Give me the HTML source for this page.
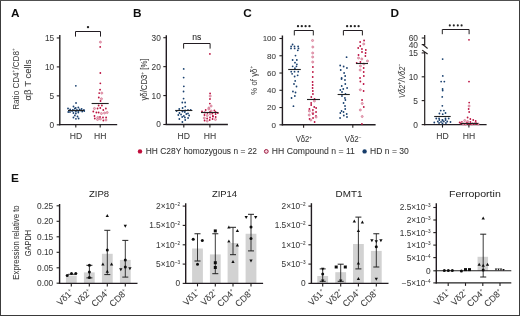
<!DOCTYPE html>
<html><head><meta charset="utf-8"><style>
html,body{margin:0;padding:0;background:#fff;width:520px;height:316px;overflow:hidden}
svg{display:block;font-family:"Liberation Sans", sans-serif}
</style></head><body>
<svg width="520" height="316" viewBox="0 0 520 316">
<defs><filter id="sf" x="0" y="0" width="520" height="316" filterUnits="userSpaceOnUse"><feGaussianBlur stdDeviation="0.28"/></filter></defs>
<rect width="520" height="316" fill="#fff"/>
<g filter="url(#sf)">
<text x="11.10" y="17.20" font-size="11.8" text-anchor="start" fill="#111" font-weight="bold">A</text>
<text x="133.10" y="17.20" font-size="11.8" text-anchor="start" fill="#111" font-weight="bold">B</text>
<text x="243.20" y="17.40" font-size="11.8" text-anchor="start" fill="#111" font-weight="bold">C</text>
<text x="390.50" y="16.90" font-size="11.8" text-anchor="start" fill="#111" font-weight="bold">D</text>
<text x="11.00" y="182.40" font-size="11.8" text-anchor="start" fill="#111" font-weight="bold">E</text>
<line x1="59.80" y1="35.00" x2="59.80" y2="125.20" stroke="#231f20" stroke-width="1.4"/>
<line x1="56.80" y1="37.95" x2="59.80" y2="37.95" stroke="#231f20" stroke-width="1.1"/>
<text x="54.20" y="40.94" font-size="8.3" text-anchor="end" fill="#3a3a3a" font-weight="normal" stroke="#3a3a3a" stroke-width="0.06">15</text>
<line x1="56.80" y1="66.90" x2="59.80" y2="66.90" stroke="#231f20" stroke-width="1.1"/>
<text x="54.20" y="69.89" font-size="8.3" text-anchor="end" fill="#3a3a3a" font-weight="normal" stroke="#3a3a3a" stroke-width="0.06">10</text>
<line x1="56.80" y1="95.85" x2="59.80" y2="95.85" stroke="#231f20" stroke-width="1.1"/>
<text x="54.20" y="98.84" font-size="8.3" text-anchor="end" fill="#3a3a3a" font-weight="normal" stroke="#3a3a3a" stroke-width="0.06">5</text>
<line x1="56.80" y1="124.80" x2="59.80" y2="124.80" stroke="#231f20" stroke-width="1.1"/>
<text x="54.20" y="127.79" font-size="8.3" text-anchor="end" fill="#3a3a3a" font-weight="normal" stroke="#3a3a3a" stroke-width="0.06">0</text>
<line x1="59.00" y1="124.60" x2="117.20" y2="124.60" stroke="#231f20" stroke-width="1.4"/>
<line x1="75.80" y1="124.60" x2="75.80" y2="127.60" stroke="#231f20" stroke-width="1.1"/>
<line x1="100.20" y1="124.60" x2="100.20" y2="127.60" stroke="#231f20" stroke-width="1.1"/>
<text x="76.00" y="138.50" font-size="8.6" text-anchor="middle" fill="#3a3a3a" font-weight="normal" stroke="#3a3a3a" stroke-width="0.06">HD</text>
<text x="100.30" y="138.50" font-size="8.6" text-anchor="middle" fill="#3a3a3a" font-weight="normal" stroke="#3a3a3a" stroke-width="0.06">HH</text>
<polyline points="75.50,36.60 75.50,31.50 100.50,31.50 100.50,36.60" fill="none" stroke="#231f20" stroke-width="1"/>
<circle cx="88" cy="27.1" r="1.2" fill="#222"/>
<text x="18.70" y="79.00" font-size="9.6" text-anchor="middle" fill="#3a3a3a" font-weight="normal" textLength="61.5" lengthAdjust="spacingAndGlyphs" transform="rotate(-90 18.70 79.00)">Ratio CD4<tspan font-size="5.8" dy="-3.6">+</tspan><tspan dy="3.6">/CD8</tspan><tspan font-size="5.8" dy="-3.6">+</tspan></text>
<text x="30.80" y="80.00" font-size="8.8" text-anchor="middle" fill="#3a3a3a" font-weight="normal" stroke="#3a3a3a" stroke-width="0.06" textLength="41" lengthAdjust="spacingAndGlyphs" transform="rotate(-90 30.80 80.00)">αβ T cells</text>
<circle cx="75.84" cy="85.80" r="0.90" fill="#1b416f"/>
<circle cx="76.03" cy="103.00" r="0.90" fill="#1b416f"/>
<circle cx="73.48" cy="106.50" r="0.90" fill="#1b416f"/>
<circle cx="78.34" cy="107.50" r="0.90" fill="#1b416f"/>
<circle cx="75.71" cy="108.00" r="0.90" fill="#1b416f"/>
<circle cx="68.02" cy="108.50" r="0.90" fill="#1b416f"/>
<circle cx="74.89" cy="108.50" r="0.90" fill="#1b416f"/>
<circle cx="81.65" cy="109.00" r="0.90" fill="#1b416f"/>
<circle cx="79.65" cy="109.50" r="0.90" fill="#1b416f"/>
<circle cx="70.12" cy="109.50" r="0.90" fill="#1b416f"/>
<circle cx="76.93" cy="110.00" r="0.90" fill="#1b416f"/>
<circle cx="72.83" cy="110.00" r="0.90" fill="#1b416f"/>
<circle cx="83.93" cy="110.00" r="0.90" fill="#1b416f"/>
<circle cx="73.98" cy="110.50" r="0.90" fill="#1b416f"/>
<circle cx="80.13" cy="110.50" r="0.90" fill="#1b416f"/>
<circle cx="78.23" cy="111.00" r="0.90" fill="#1b416f"/>
<circle cx="72.13" cy="111.00" r="0.90" fill="#1b416f"/>
<circle cx="84.25" cy="111.00" r="0.90" fill="#1b416f"/>
<circle cx="75.94" cy="111.50" r="0.90" fill="#1b416f"/>
<circle cx="82.18" cy="111.50" r="0.90" fill="#1b416f"/>
<circle cx="69.97" cy="112.00" r="0.90" fill="#1b416f"/>
<circle cx="68.26" cy="112.00" r="0.90" fill="#1b416f"/>
<circle cx="78.32" cy="112.50" r="0.90" fill="#1b416f"/>
<circle cx="73.40" cy="113.00" r="0.90" fill="#1b416f"/>
<circle cx="75.85" cy="113.50" r="0.90" fill="#1b416f"/>
<circle cx="74.87" cy="115.50" r="0.90" fill="#1b416f"/>
<circle cx="77.51" cy="116.50" r="0.90" fill="#1b416f"/>
<circle cx="73.44" cy="117.50" r="0.90" fill="#1b416f"/>
<circle cx="78.62" cy="118.50" r="0.90" fill="#1b416f"/>
<circle cx="75.94" cy="118.80" r="0.90" fill="#1b416f"/>
<line x1="68.00" y1="110.50" x2="84.00" y2="110.50" stroke="#222" stroke-width="1.1"/>
<circle cx="100.42" cy="42.10" r="1.05" fill="#eeb2c2" stroke="#cc6684" stroke-width="0.6"/>
<circle cx="100.20" cy="46.90" r="0.90" fill="#bb1340"/>
<circle cx="100.33" cy="73.00" r="0.90" fill="#bb1340"/>
<circle cx="100.34" cy="83.30" r="0.90" fill="#bb1340"/>
<circle cx="100.06" cy="89.70" r="0.90" fill="#bb1340"/>
<circle cx="101.78" cy="93.10" r="1.05" fill="#eeb2c2" stroke="#cc6684" stroke-width="0.6"/>
<circle cx="99.19" cy="93.10" r="0.90" fill="#bb1340"/>
<circle cx="98.77" cy="97.50" r="0.90" fill="#bb1340"/>
<circle cx="101.44" cy="98.80" r="1.05" fill="#eeb2c2" stroke="#cc6684" stroke-width="0.6"/>
<circle cx="100.51" cy="101.00" r="0.90" fill="#bb1340"/>
<circle cx="98.65" cy="105.50" r="0.90" fill="#bb1340"/>
<circle cx="101.88" cy="105.50" r="0.90" fill="#bb1340"/>
<circle cx="100.26" cy="108.00" r="0.90" fill="#bb1340"/>
<circle cx="105.85" cy="108.50" r="0.90" fill="#bb1340"/>
<circle cx="94.47" cy="108.50" r="1.05" fill="#eeb2c2" stroke="#cc6684" stroke-width="0.6"/>
<circle cx="97.56" cy="108.50" r="0.90" fill="#bb1340"/>
<circle cx="103.26" cy="110.00" r="0.90" fill="#bb1340"/>
<circle cx="93.30" cy="111.50" r="0.90" fill="#bb1340"/>
<circle cx="96.40" cy="112.50" r="0.90" fill="#bb1340"/>
<circle cx="107.19" cy="112.50" r="1.05" fill="#eeb2c2" stroke="#cc6684" stroke-width="0.6"/>
<circle cx="98.65" cy="112.50" r="0.90" fill="#bb1340"/>
<circle cx="104.56" cy="113.00" r="1.05" fill="#eeb2c2" stroke="#cc6684" stroke-width="0.6"/>
<circle cx="101.42" cy="113.50" r="1.05" fill="#eeb2c2" stroke="#cc6684" stroke-width="0.6"/>
<circle cx="94.49" cy="116.00" r="0.90" fill="#bb1340"/>
<circle cx="100.03" cy="117.00" r="0.90" fill="#bb1340"/>
<circle cx="106.12" cy="117.50" r="0.90" fill="#bb1340"/>
<circle cx="102.99" cy="117.50" r="0.90" fill="#bb1340"/>
<circle cx="97.78" cy="117.50" r="1.05" fill="#eeb2c2" stroke="#cc6684" stroke-width="0.6"/>
<circle cx="94.79" cy="118.50" r="0.90" fill="#bb1340"/>
<circle cx="100.36" cy="119.00" r="1.05" fill="#eeb2c2" stroke="#cc6684" stroke-width="0.6"/>
<circle cx="97.54" cy="119.50" r="1.05" fill="#eeb2c2" stroke="#cc6684" stroke-width="0.6"/>
<circle cx="105.97" cy="120.00" r="1.05" fill="#eeb2c2" stroke="#cc6684" stroke-width="0.6"/>
<circle cx="103.36" cy="120.50" r="0.90" fill="#bb1340"/>
<line x1="91.60" y1="103.50" x2="108.70" y2="103.50" stroke="#222" stroke-width="1.1"/>
<line x1="166.30" y1="35.20" x2="166.30" y2="125.10" stroke="#231f20" stroke-width="1.4"/>
<line x1="163.30" y1="37.71" x2="166.30" y2="37.71" stroke="#231f20" stroke-width="1.1"/>
<text x="160.80" y="40.70" font-size="8.3" text-anchor="end" fill="#3a3a3a" font-weight="normal" stroke="#3a3a3a" stroke-width="0.06">30</text>
<line x1="163.30" y1="66.64" x2="166.30" y2="66.64" stroke="#231f20" stroke-width="1.1"/>
<text x="160.80" y="69.63" font-size="8.3" text-anchor="end" fill="#3a3a3a" font-weight="normal" stroke="#3a3a3a" stroke-width="0.06">20</text>
<line x1="163.30" y1="95.57" x2="166.30" y2="95.57" stroke="#231f20" stroke-width="1.1"/>
<text x="160.80" y="98.56" font-size="8.3" text-anchor="end" fill="#3a3a3a" font-weight="normal" stroke="#3a3a3a" stroke-width="0.06">10</text>
<line x1="163.30" y1="124.50" x2="166.30" y2="124.50" stroke="#231f20" stroke-width="1.1"/>
<text x="160.80" y="127.49" font-size="8.3" text-anchor="end" fill="#3a3a3a" font-weight="normal" stroke="#3a3a3a" stroke-width="0.06">0</text>
<line x1="165.70" y1="124.50" x2="227.90" y2="124.50" stroke="#231f20" stroke-width="1.4"/>
<line x1="183.80" y1="124.50" x2="183.80" y2="127.50" stroke="#231f20" stroke-width="1.1"/>
<line x1="209.90" y1="124.50" x2="209.90" y2="127.50" stroke="#231f20" stroke-width="1.1"/>
<text x="183.70" y="138.50" font-size="8.6" text-anchor="middle" fill="#3a3a3a" font-weight="normal" stroke="#3a3a3a" stroke-width="0.06">HD</text>
<text x="210.00" y="138.50" font-size="8.6" text-anchor="middle" fill="#3a3a3a" font-weight="normal" stroke="#3a3a3a" stroke-width="0.06">HH</text>
<polyline points="183.60,48.60 183.60,43.50 210.10,43.50 210.10,48.60" fill="none" stroke="#231f20" stroke-width="1"/>
<text x="196.85" y="39.80" font-size="8.6" text-anchor="middle" fill="#222" font-weight="normal" stroke="#222" stroke-width="0.06">ns</text>
<text x="147.30" y="79.50" font-size="9.4" text-anchor="middle" fill="#3a3a3a" font-weight="normal" stroke="#3a3a3a" stroke-width="0.06" textLength="42" lengthAdjust="spacingAndGlyphs" transform="rotate(-90 147.30 79.50)">γδ/CD3<tspan font-size="5.8" dy="-3.6">+</tspan><tspan dy="3.6"> [%]</tspan></text>
<circle cx="183.70" cy="68.90" r="0.90" fill="#1b416f"/>
<circle cx="183.66" cy="77.60" r="0.90" fill="#1b416f"/>
<circle cx="183.83" cy="86.30" r="0.90" fill="#1b416f"/>
<circle cx="183.54" cy="91.50" r="0.90" fill="#1b416f"/>
<circle cx="183.58" cy="98.60" r="0.90" fill="#1b416f"/>
<circle cx="182.31" cy="102.50" r="0.90" fill="#1b416f"/>
<circle cx="185.13" cy="102.50" r="0.90" fill="#1b416f"/>
<circle cx="185.27" cy="106.60" r="0.90" fill="#1b416f"/>
<circle cx="182.59" cy="108.00" r="0.90" fill="#1b416f"/>
<circle cx="179.24" cy="109.00" r="0.90" fill="#1b416f"/>
<circle cx="187.98" cy="110.00" r="0.90" fill="#1b416f"/>
<circle cx="190.68" cy="110.00" r="0.90" fill="#1b416f"/>
<circle cx="185.21" cy="110.50" r="0.90" fill="#1b416f"/>
<circle cx="176.61" cy="111.00" r="0.90" fill="#1b416f"/>
<circle cx="182.42" cy="111.00" r="0.90" fill="#1b416f"/>
<circle cx="182.57" cy="111.50" r="0.90" fill="#1b416f"/>
<circle cx="184.81" cy="112.00" r="0.90" fill="#1b416f"/>
<circle cx="179.42" cy="113.00" r="0.90" fill="#1b416f"/>
<circle cx="187.98" cy="113.50" r="0.90" fill="#1b416f"/>
<circle cx="186.31" cy="114.00" r="0.90" fill="#1b416f"/>
<circle cx="181.05" cy="114.50" r="0.90" fill="#1b416f"/>
<circle cx="178.31" cy="115.00" r="0.90" fill="#1b416f"/>
<circle cx="189.16" cy="115.50" r="0.90" fill="#1b416f"/>
<circle cx="183.87" cy="116.00" r="0.90" fill="#1b416f"/>
<circle cx="182.19" cy="117.00" r="0.90" fill="#1b416f"/>
<circle cx="184.93" cy="117.50" r="0.90" fill="#1b416f"/>
<circle cx="188.08" cy="118.00" r="0.90" fill="#1b416f"/>
<circle cx="179.34" cy="119.00" r="0.90" fill="#1b416f"/>
<circle cx="185.21" cy="120.00" r="0.90" fill="#1b416f"/>
<circle cx="182.39" cy="122.00" r="0.90" fill="#1b416f"/>
<line x1="175.20" y1="110.50" x2="192.40" y2="110.50" stroke="#222" stroke-width="1.1"/>
<circle cx="209.90" cy="53.90" r="0.90" fill="#bb1340"/>
<circle cx="210.09" cy="93.40" r="0.90" fill="#bb1340"/>
<circle cx="210.23" cy="96.00" r="1.05" fill="#eeb2c2" stroke="#cc6684" stroke-width="0.6"/>
<circle cx="209.97" cy="99.00" r="0.90" fill="#bb1340"/>
<circle cx="209.84" cy="103.60" r="0.90" fill="#bb1340"/>
<circle cx="211.12" cy="106.00" r="1.05" fill="#eeb2c2" stroke="#cc6684" stroke-width="0.6"/>
<circle cx="208.87" cy="108.00" r="1.05" fill="#eeb2c2" stroke="#cc6684" stroke-width="0.6"/>
<circle cx="208.82" cy="109.00" r="1.05" fill="#eeb2c2" stroke="#cc6684" stroke-width="0.6"/>
<circle cx="205.70" cy="110.00" r="0.90" fill="#bb1340"/>
<circle cx="214.40" cy="110.50" r="0.90" fill="#bb1340"/>
<circle cx="211.15" cy="111.00" r="1.05" fill="#eeb2c2" stroke="#cc6684" stroke-width="0.6"/>
<circle cx="202.01" cy="111.50" r="0.90" fill="#bb1340"/>
<circle cx="215.54" cy="112.00" r="0.90" fill="#bb1340"/>
<circle cx="209.98" cy="112.00" r="0.90" fill="#bb1340"/>
<circle cx="204.75" cy="112.50" r="1.05" fill="#eeb2c2" stroke="#cc6684" stroke-width="0.6"/>
<circle cx="217.87" cy="113.00" r="0.90" fill="#bb1340"/>
<circle cx="207.37" cy="113.00" r="0.90" fill="#bb1340"/>
<circle cx="212.39" cy="113.50" r="0.90" fill="#bb1340"/>
<circle cx="215.59" cy="114.00" r="0.90" fill="#bb1340"/>
<circle cx="210.20" cy="114.00" r="1.05" fill="#eeb2c2" stroke="#cc6684" stroke-width="0.6"/>
<circle cx="204.47" cy="115.00" r="0.90" fill="#bb1340"/>
<circle cx="207.21" cy="115.50" r="1.05" fill="#eeb2c2" stroke="#cc6684" stroke-width="0.6"/>
<circle cx="212.84" cy="116.00" r="0.90" fill="#bb1340"/>
<circle cx="213.00" cy="116.50" r="0.90" fill="#bb1340"/>
<circle cx="215.70" cy="117.00" r="0.90" fill="#bb1340"/>
<circle cx="210.01" cy="117.50" r="0.90" fill="#bb1340"/>
<circle cx="204.27" cy="118.00" r="1.05" fill="#eeb2c2" stroke="#cc6684" stroke-width="0.6"/>
<circle cx="207.10" cy="118.50" r="0.90" fill="#bb1340"/>
<circle cx="212.57" cy="119.00" r="0.90" fill="#bb1340"/>
<circle cx="215.45" cy="119.50" r="1.05" fill="#eeb2c2" stroke="#cc6684" stroke-width="0.6"/>
<circle cx="209.72" cy="120.00" r="0.90" fill="#bb1340"/>
<circle cx="204.58" cy="120.50" r="0.90" fill="#bb1340"/>
<circle cx="207.21" cy="121.00" r="1.05" fill="#eeb2c2" stroke="#cc6684" stroke-width="0.6"/>
<line x1="201.00" y1="112.50" x2="218.30" y2="112.50" stroke="#222" stroke-width="1.1"/>
<line x1="282.40" y1="35.50" x2="282.40" y2="125.40" stroke="#231f20" stroke-width="1.4"/>
<line x1="279.40" y1="38.50" x2="282.40" y2="38.50" stroke="#231f20" stroke-width="1.1"/>
<text x="276.00" y="41.38" font-size="8.0" text-anchor="end" fill="#3a3a3a" font-weight="normal" stroke="#3a3a3a" stroke-width="0.06">100</text>
<line x1="279.40" y1="55.76" x2="282.40" y2="55.76" stroke="#231f20" stroke-width="1.1"/>
<text x="276.00" y="58.64" font-size="8.0" text-anchor="end" fill="#3a3a3a" font-weight="normal" stroke="#3a3a3a" stroke-width="0.06">80</text>
<line x1="279.40" y1="73.02" x2="282.40" y2="73.02" stroke="#231f20" stroke-width="1.1"/>
<text x="276.00" y="75.90" font-size="8.0" text-anchor="end" fill="#3a3a3a" font-weight="normal" stroke="#3a3a3a" stroke-width="0.06">60</text>
<line x1="279.40" y1="90.28" x2="282.40" y2="90.28" stroke="#231f20" stroke-width="1.1"/>
<text x="276.00" y="93.16" font-size="8.0" text-anchor="end" fill="#3a3a3a" font-weight="normal" stroke="#3a3a3a" stroke-width="0.06">40</text>
<line x1="279.40" y1="107.54" x2="282.40" y2="107.54" stroke="#231f20" stroke-width="1.1"/>
<text x="276.00" y="110.42" font-size="8.0" text-anchor="end" fill="#3a3a3a" font-weight="normal" stroke="#3a3a3a" stroke-width="0.06">20</text>
<line x1="279.40" y1="124.80" x2="282.40" y2="124.80" stroke="#231f20" stroke-width="1.1"/>
<text x="276.00" y="127.68" font-size="8.0" text-anchor="end" fill="#3a3a3a" font-weight="normal" stroke="#3a3a3a" stroke-width="0.06">0</text>
<line x1="281.80" y1="124.80" x2="375.60" y2="124.80" stroke="#231f20" stroke-width="1.4"/>
<line x1="303.60" y1="124.80" x2="303.60" y2="127.80" stroke="#231f20" stroke-width="1.1"/>
<line x1="352.80" y1="124.80" x2="352.80" y2="127.80" stroke="#231f20" stroke-width="1.1"/>
<text x="295.70" y="141.80" font-size="8.4" text-anchor="start" fill="#3a3a3a" font-weight="normal" stroke="#3a3a3a" stroke-width="0.06" textLength="16.3" lengthAdjust="spacingAndGlyphs">Vδ2<tspan font-size="5" dy="-3">+</tspan></text>
<text x="344.70" y="141.80" font-size="8.4" text-anchor="start" fill="#3a3a3a" font-weight="normal" stroke="#3a3a3a" stroke-width="0.06" textLength="16.8" lengthAdjust="spacingAndGlyphs">Vδ2<tspan font-size="5" dy="-3">−</tspan></text>
<polyline points="294.30,35.40 294.30,30.50 313.30,30.50 313.30,35.40" fill="none" stroke="#231f20" stroke-width="1"/>
<polyline points="343.40,35.40 343.40,30.50 362.40,30.50 362.40,35.40" fill="none" stroke="#231f20" stroke-width="1"/>
<circle cx="298" cy="26.2" r="1.15" fill="#222"/>
<circle cx="301.8" cy="26.2" r="1.15" fill="#222"/>
<circle cx="305.6" cy="26.2" r="1.15" fill="#222"/>
<circle cx="309.5" cy="26.2" r="1.15" fill="#222"/>
<circle cx="347.1" cy="26.2" r="1.15" fill="#222"/>
<circle cx="350.9" cy="26.2" r="1.15" fill="#222"/>
<circle cx="354.8" cy="26.2" r="1.15" fill="#222"/>
<circle cx="358.6" cy="26.2" r="1.15" fill="#222"/>
<text x="256.60" y="80.30" font-size="9.6" text-anchor="middle" fill="#3a3a3a" font-weight="normal" textLength="28.7" lengthAdjust="spacingAndGlyphs" transform="rotate(-90 256.60 80.30)">% of γδ<tspan font-size="5.5" dy="-3.4">+</tspan></text>
<circle cx="292.59" cy="44.50" r="0.90" fill="#1b416f"/>
<circle cx="298.11" cy="46.40" r="0.90" fill="#1b416f"/>
<circle cx="291.15" cy="46.40" r="0.90" fill="#1b416f"/>
<circle cx="294.50" cy="46.40" r="0.90" fill="#1b416f"/>
<circle cx="298.50" cy="48.40" r="0.90" fill="#1b416f"/>
<circle cx="291.01" cy="48.40" r="0.90" fill="#1b416f"/>
<circle cx="294.65" cy="48.40" r="0.90" fill="#1b416f"/>
<circle cx="297.77" cy="50.30" r="0.90" fill="#1b416f"/>
<circle cx="295.49" cy="55.60" r="0.90" fill="#1b416f"/>
<circle cx="292.63" cy="60.00" r="0.90" fill="#1b416f"/>
<circle cx="296.83" cy="60.00" r="0.90" fill="#1b416f"/>
<circle cx="294.99" cy="62.70" r="0.90" fill="#1b416f"/>
<circle cx="296.88" cy="64.30" r="0.90" fill="#1b416f"/>
<circle cx="296.46" cy="66.30" r="0.90" fill="#1b416f"/>
<circle cx="292.67" cy="66.30" r="0.90" fill="#1b416f"/>
<circle cx="294.94" cy="68.20" r="0.90" fill="#1b416f"/>
<circle cx="294.54" cy="71.70" r="0.90" fill="#1b416f"/>
<circle cx="298.26" cy="71.70" r="0.90" fill="#1b416f"/>
<circle cx="291.23" cy="71.70" r="0.90" fill="#1b416f"/>
<circle cx="292.10" cy="73.80" r="0.90" fill="#1b416f"/>
<circle cx="297.65" cy="75.30" r="0.90" fill="#1b416f"/>
<circle cx="294.61" cy="76.50" r="0.90" fill="#1b416f"/>
<circle cx="295.20" cy="80.90" r="0.90" fill="#1b416f"/>
<circle cx="294.00" cy="84.00" r="0.90" fill="#1b416f"/>
<circle cx="296.50" cy="86.50" r="0.90" fill="#1b416f"/>
<circle cx="292.94" cy="91.50" r="0.90" fill="#1b416f"/>
<circle cx="295.53" cy="92.50" r="0.90" fill="#1b416f"/>
<circle cx="294.84" cy="96.00" r="0.90" fill="#1b416f"/>
<circle cx="291.56" cy="98.00" r="0.90" fill="#1b416f"/>
<circle cx="293.46" cy="106.20" r="0.90" fill="#1b416f"/>
<line x1="288.20" y1="69.50" x2="300.80" y2="69.50" stroke="#222" stroke-width="1.1"/>
<circle cx="312.55" cy="40.50" r="1.05" fill="#eeb2c2" stroke="#cc6684" stroke-width="0.6"/>
<circle cx="312.80" cy="47.00" r="1.05" fill="#eeb2c2" stroke="#cc6684" stroke-width="0.6"/>
<circle cx="312.69" cy="53.00" r="1.05" fill="#eeb2c2" stroke="#cc6684" stroke-width="0.6"/>
<circle cx="312.69" cy="57.00" r="1.05" fill="#eeb2c2" stroke="#cc6684" stroke-width="0.6"/>
<circle cx="312.71" cy="62.00" r="1.05" fill="#eeb2c2" stroke="#cc6684" stroke-width="0.6"/>
<circle cx="312.89" cy="67.00" r="0.90" fill="#bb1340"/>
<circle cx="312.85" cy="72.00" r="0.90" fill="#bb1340"/>
<circle cx="312.72" cy="77.00" r="0.90" fill="#bb1340"/>
<circle cx="312.61" cy="82.00" r="0.90" fill="#bb1340"/>
<circle cx="312.70" cy="85.00" r="0.90" fill="#bb1340"/>
<circle cx="312.57" cy="88.00" r="0.90" fill="#bb1340"/>
<circle cx="312.83" cy="91.00" r="0.90" fill="#bb1340"/>
<circle cx="312.93" cy="94.00" r="0.90" fill="#bb1340"/>
<circle cx="311.28" cy="97.00" r="0.90" fill="#bb1340"/>
<circle cx="314.54" cy="99.00" r="0.90" fill="#bb1340"/>
<circle cx="314.42" cy="101.00" r="1.05" fill="#eeb2c2" stroke="#cc6684" stroke-width="0.6"/>
<circle cx="311.16" cy="103.00" r="0.90" fill="#bb1340"/>
<circle cx="311.18" cy="105.00" r="0.90" fill="#bb1340"/>
<circle cx="314.23" cy="107.00" r="0.90" fill="#bb1340"/>
<circle cx="316.12" cy="108.00" r="0.90" fill="#bb1340"/>
<circle cx="309.40" cy="109.00" r="0.90" fill="#bb1340"/>
<circle cx="312.92" cy="110.00" r="0.90" fill="#bb1340"/>
<circle cx="309.38" cy="111.00" r="1.05" fill="#eeb2c2" stroke="#cc6684" stroke-width="0.6"/>
<circle cx="316.05" cy="112.00" r="0.90" fill="#bb1340"/>
<circle cx="312.82" cy="113.00" r="1.05" fill="#eeb2c2" stroke="#cc6684" stroke-width="0.6"/>
<circle cx="312.98" cy="114.00" r="0.90" fill="#bb1340"/>
<circle cx="309.23" cy="115.00" r="1.05" fill="#eeb2c2" stroke="#cc6684" stroke-width="0.6"/>
<circle cx="315.98" cy="116.00" r="0.90" fill="#bb1340"/>
<circle cx="316.12" cy="117.00" r="1.05" fill="#eeb2c2" stroke="#cc6684" stroke-width="0.6"/>
<circle cx="313.04" cy="118.00" r="0.90" fill="#bb1340"/>
<circle cx="309.57" cy="119.00" r="0.90" fill="#bb1340"/>
<circle cx="310.87" cy="120.00" r="1.05" fill="#eeb2c2" stroke="#cc6684" stroke-width="0.6"/>
<circle cx="314.61" cy="122.00" r="0.90" fill="#bb1340"/>
<line x1="307.00" y1="99.50" x2="320.00" y2="99.50" stroke="#222" stroke-width="1.1"/>
<circle cx="346.57" cy="57.20" r="0.90" fill="#1b416f"/>
<circle cx="340.20" cy="65.50" r="0.90" fill="#1b416f"/>
<circle cx="343.64" cy="66.50" r="0.90" fill="#1b416f"/>
<circle cx="346.94" cy="68.00" r="0.90" fill="#1b416f"/>
<circle cx="340.72" cy="70.00" r="0.90" fill="#1b416f"/>
<circle cx="344.11" cy="73.00" r="0.90" fill="#1b416f"/>
<circle cx="345.18" cy="76.00" r="0.90" fill="#1b416f"/>
<circle cx="341.64" cy="78.00" r="0.90" fill="#1b416f"/>
<circle cx="341.53" cy="79.00" r="0.90" fill="#1b416f"/>
<circle cx="344.96" cy="80.00" r="0.90" fill="#1b416f"/>
<circle cx="345.30" cy="84.00" r="0.90" fill="#1b416f"/>
<circle cx="341.73" cy="86.00" r="0.90" fill="#1b416f"/>
<circle cx="347.10" cy="88.00" r="0.90" fill="#1b416f"/>
<circle cx="343.27" cy="89.00" r="0.90" fill="#1b416f"/>
<circle cx="340.31" cy="90.00" r="0.90" fill="#1b416f"/>
<circle cx="342.00" cy="92.00" r="0.90" fill="#1b416f"/>
<circle cx="345.47" cy="94.00" r="0.90" fill="#1b416f"/>
<circle cx="341.98" cy="96.00" r="0.90" fill="#1b416f"/>
<circle cx="344.92" cy="98.00" r="0.90" fill="#1b416f"/>
<circle cx="345.37" cy="100.00" r="0.90" fill="#1b416f"/>
<circle cx="343.58" cy="103.00" r="0.90" fill="#1b416f"/>
<circle cx="345.01" cy="106.00" r="0.90" fill="#1b416f"/>
<circle cx="345.23" cy="109.00" r="0.90" fill="#1b416f"/>
<circle cx="341.56" cy="111.00" r="0.90" fill="#1b416f"/>
<circle cx="343.53" cy="112.00" r="0.90" fill="#1b416f"/>
<circle cx="340.32" cy="113.00" r="0.90" fill="#1b416f"/>
<circle cx="346.71" cy="114.00" r="0.90" fill="#1b416f"/>
<circle cx="343.80" cy="115.50" r="0.90" fill="#1b416f"/>
<circle cx="346.99" cy="117.00" r="0.90" fill="#1b416f"/>
<circle cx="340.07" cy="118.00" r="0.90" fill="#1b416f"/>
<line x1="337.60" y1="94.50" x2="349.80" y2="94.50" stroke="#222" stroke-width="1.1"/>
<circle cx="364.08" cy="40.50" r="0.90" fill="#bb1340"/>
<circle cx="360.15" cy="42.00" r="0.90" fill="#bb1340"/>
<circle cx="363.75" cy="44.00" r="1.05" fill="#eeb2c2" stroke="#cc6684" stroke-width="0.6"/>
<circle cx="360.24" cy="46.00" r="0.90" fill="#bb1340"/>
<circle cx="358.19" cy="48.00" r="0.90" fill="#bb1340"/>
<circle cx="361.94" cy="49.00" r="0.90" fill="#bb1340"/>
<circle cx="365.83" cy="50.00" r="0.90" fill="#bb1340"/>
<circle cx="362.00" cy="52.00" r="0.90" fill="#bb1340"/>
<circle cx="365.59" cy="53.00" r="0.90" fill="#bb1340"/>
<circle cx="358.52" cy="55.00" r="0.90" fill="#bb1340"/>
<circle cx="365.38" cy="56.00" r="0.90" fill="#bb1340"/>
<circle cx="358.55" cy="58.00" r="1.05" fill="#eeb2c2" stroke="#cc6684" stroke-width="0.6"/>
<circle cx="361.79" cy="59.00" r="1.05" fill="#eeb2c2" stroke="#cc6684" stroke-width="0.6"/>
<circle cx="367.50" cy="61.00" r="1.05" fill="#eeb2c2" stroke="#cc6684" stroke-width="0.6"/>
<circle cx="360.41" cy="62.00" r="0.90" fill="#bb1340"/>
<circle cx="356.66" cy="63.00" r="0.90" fill="#bb1340"/>
<circle cx="363.85" cy="64.00" r="1.05" fill="#eeb2c2" stroke="#cc6684" stroke-width="0.6"/>
<circle cx="360.43" cy="66.00" r="1.05" fill="#eeb2c2" stroke="#cc6684" stroke-width="0.6"/>
<circle cx="363.68" cy="68.00" r="0.90" fill="#bb1340"/>
<circle cx="360.19" cy="70.00" r="1.05" fill="#eeb2c2" stroke="#cc6684" stroke-width="0.6"/>
<circle cx="363.73" cy="72.00" r="0.90" fill="#bb1340"/>
<circle cx="363.84" cy="76.00" r="0.90" fill="#bb1340"/>
<circle cx="360.04" cy="78.00" r="0.90" fill="#bb1340"/>
<circle cx="360.36" cy="81.50" r="0.90" fill="#bb1340"/>
<circle cx="363.59" cy="84.00" r="0.90" fill="#bb1340"/>
<circle cx="360.32" cy="89.80" r="1.05" fill="#eeb2c2" stroke="#cc6684" stroke-width="0.6"/>
<circle cx="363.62" cy="91.00" r="0.90" fill="#bb1340"/>
<circle cx="362.05" cy="100.00" r="0.90" fill="#bb1340"/>
<circle cx="362.24" cy="103.50" r="1.05" fill="#eeb2c2" stroke="#cc6684" stroke-width="0.6"/>
<circle cx="363.79" cy="107.00" r="0.90" fill="#bb1340"/>
<circle cx="360.33" cy="110.00" r="1.05" fill="#eeb2c2" stroke="#cc6684" stroke-width="0.6"/>
<circle cx="362.21" cy="116.50" r="1.05" fill="#eeb2c2" stroke="#cc6684" stroke-width="0.6"/>
<circle cx="361.94" cy="124.00" r="0.90" fill="#bb1340"/>
<line x1="356.00" y1="63.50" x2="368.00" y2="63.50" stroke="#222" stroke-width="1.1"/>
<line x1="424.70" y1="35.10" x2="424.70" y2="45.60" stroke="#231f20" stroke-width="1.2"/>
<line x1="422.60" y1="44.40" x2="427.60" y2="48.50" stroke="#231f20" stroke-width="1.1"/>
<line x1="422.20" y1="50.10" x2="427.60" y2="54.00" stroke="#231f20" stroke-width="1.1"/>
<line x1="424.70" y1="51.90" x2="424.70" y2="125.20" stroke="#231f20" stroke-width="1.2"/>
<line x1="421.70" y1="38.00" x2="424.70" y2="38.00" stroke="#231f20" stroke-width="1.1"/>
<text x="418.00" y="40.90" font-size="8.4" text-anchor="end" fill="#3a3a3a" font-weight="normal" stroke="#3a3a3a" stroke-width="0.06">60</text>
<line x1="421.70" y1="44.60" x2="424.70" y2="44.60" stroke="#231f20" stroke-width="1.1"/>
<text x="418.00" y="47.50" font-size="8.4" text-anchor="end" fill="#3a3a3a" font-weight="normal" stroke="#3a3a3a" stroke-width="0.06">40</text>
<line x1="421.70" y1="52.90" x2="424.70" y2="52.90" stroke="#231f20" stroke-width="1.1"/>
<text x="418.00" y="55.80" font-size="8.4" text-anchor="end" fill="#3a3a3a" font-weight="normal" stroke="#3a3a3a" stroke-width="0.06">15</text>
<line x1="421.70" y1="76.80" x2="424.70" y2="76.80" stroke="#231f20" stroke-width="1.1"/>
<text x="418.00" y="79.70" font-size="8.4" text-anchor="end" fill="#3a3a3a" font-weight="normal" stroke="#3a3a3a" stroke-width="0.06">10</text>
<line x1="421.70" y1="100.60" x2="424.70" y2="100.60" stroke="#231f20" stroke-width="1.1"/>
<text x="418.00" y="103.50" font-size="8.4" text-anchor="end" fill="#3a3a3a" font-weight="normal" stroke="#3a3a3a" stroke-width="0.06">5</text>
<line x1="421.70" y1="124.60" x2="424.70" y2="124.60" stroke="#231f20" stroke-width="1.1"/>
<text x="418.00" y="127.50" font-size="8.4" text-anchor="end" fill="#3a3a3a" font-weight="normal" stroke="#3a3a3a" stroke-width="0.06">0</text>
<line x1="424.10" y1="124.60" x2="486.60" y2="124.60" stroke="#231f20" stroke-width="1.4"/>
<line x1="442.50" y1="124.60" x2="442.50" y2="127.60" stroke="#231f20" stroke-width="1.1"/>
<line x1="468.90" y1="124.60" x2="468.90" y2="127.60" stroke="#231f20" stroke-width="1.1"/>
<text x="442.50" y="138.50" font-size="8.6" text-anchor="middle" fill="#3a3a3a" font-weight="normal" stroke="#3a3a3a" stroke-width="0.06">HD</text>
<text x="468.90" y="138.50" font-size="8.6" text-anchor="middle" fill="#3a3a3a" font-weight="normal" stroke="#3a3a3a" stroke-width="0.06">HH</text>
<polyline points="442.30,34.20 442.30,29.50 469.10,29.50 469.10,34.20" fill="none" stroke="#231f20" stroke-width="1"/>
<circle cx="449.8" cy="25.4" r="1.05" fill="#222"/>
<circle cx="453.8" cy="25.4" r="1.05" fill="#222"/>
<circle cx="457.8" cy="25.4" r="1.05" fill="#222"/>
<circle cx="461.6" cy="25.4" r="1.05" fill="#222"/>
<text x="404.60" y="80.90" font-size="8.4" text-anchor="middle" fill="#3a3a3a" font-weight="normal" stroke="#3a3a3a" stroke-width="0.06" textLength="34.2" lengthAdjust="spacingAndGlyphs" transform="rotate(-90 404.60 80.90)" font-style="italic">Vδ2<tspan font-size="5.5" dy="-3.2">+</tspan><tspan dy="3.2">/Vδ2</tspan><tspan font-size="5.5" dy="-3.2">−</tspan></text>
<circle cx="442.64" cy="59.10" r="0.90" fill="#1b416f"/>
<circle cx="442.78" cy="75.90" r="0.90" fill="#1b416f"/>
<circle cx="441.15" cy="81.60" r="0.90" fill="#1b416f"/>
<circle cx="444.33" cy="81.60" r="0.90" fill="#1b416f"/>
<circle cx="442.59" cy="89.00" r="0.90" fill="#1b416f"/>
<circle cx="442.67" cy="90.50" r="0.90" fill="#1b416f"/>
<circle cx="442.24" cy="96.90" r="0.90" fill="#1b416f"/>
<circle cx="442.33" cy="105.80" r="0.90" fill="#1b416f"/>
<circle cx="440.75" cy="110.60" r="0.90" fill="#1b416f"/>
<circle cx="443.91" cy="110.60" r="0.90" fill="#1b416f"/>
<circle cx="445.51" cy="113.00" r="0.90" fill="#1b416f"/>
<circle cx="439.42" cy="113.50" r="0.90" fill="#1b416f"/>
<circle cx="442.72" cy="114.20" r="0.90" fill="#1b416f"/>
<circle cx="448.71" cy="118.50" r="0.90" fill="#1b416f"/>
<circle cx="445.45" cy="118.50" r="0.90" fill="#1b416f"/>
<circle cx="436.28" cy="118.50" r="0.90" fill="#1b416f"/>
<circle cx="439.07" cy="118.50" r="0.90" fill="#1b416f"/>
<circle cx="442.36" cy="119.80" r="0.90" fill="#1b416f"/>
<circle cx="445.61" cy="120.00" r="0.90" fill="#1b416f"/>
<circle cx="439.35" cy="120.00" r="0.90" fill="#1b416f"/>
<circle cx="442.61" cy="120.50" r="0.90" fill="#1b416f"/>
<circle cx="447.23" cy="121.50" r="0.90" fill="#1b416f"/>
<circle cx="443.85" cy="121.50" r="0.90" fill="#1b416f"/>
<circle cx="437.79" cy="121.50" r="0.90" fill="#1b416f"/>
<circle cx="441.05" cy="122.00" r="0.90" fill="#1b416f"/>
<circle cx="450.49" cy="122.00" r="0.90" fill="#1b416f"/>
<circle cx="434.28" cy="122.50" r="0.90" fill="#1b416f"/>
<circle cx="445.93" cy="123.00" r="0.90" fill="#1b416f"/>
<circle cx="439.05" cy="123.00" r="0.90" fill="#1b416f"/>
<circle cx="442.46" cy="123.50" r="0.90" fill="#1b416f"/>
<line x1="434.20" y1="116.50" x2="450.70" y2="116.50" stroke="#222" stroke-width="1.1"/>
<circle cx="469.00" cy="39.80" r="0.90" fill="#bb1340"/>
<circle cx="469.00" cy="81.60" r="0.90" fill="#bb1340"/>
<circle cx="469.17" cy="102.60" r="0.90" fill="#bb1340"/>
<circle cx="469.09" cy="106.00" r="1.05" fill="#eeb2c2" stroke="#cc6684" stroke-width="0.6"/>
<circle cx="468.66" cy="109.00" r="0.90" fill="#bb1340"/>
<circle cx="469.17" cy="112.00" r="0.90" fill="#bb1340"/>
<circle cx="467.60" cy="117.50" r="0.90" fill="#bb1340"/>
<circle cx="470.32" cy="119.00" r="0.90" fill="#bb1340"/>
<circle cx="473.21" cy="120.00" r="0.90" fill="#bb1340"/>
<circle cx="464.74" cy="120.50" r="1.05" fill="#eeb2c2" stroke="#cc6684" stroke-width="0.6"/>
<circle cx="475.71" cy="121.00" r="0.90" fill="#bb1340"/>
<circle cx="467.59" cy="121.50" r="1.05" fill="#eeb2c2" stroke="#cc6684" stroke-width="0.6"/>
<circle cx="470.38" cy="122.00" r="0.90" fill="#bb1340"/>
<circle cx="461.71" cy="122.00" r="0.90" fill="#bb1340"/>
<circle cx="462.02" cy="122.50" r="1.05" fill="#eeb2c2" stroke="#cc6684" stroke-width="0.6"/>
<circle cx="459.66" cy="122.50" r="0.90" fill="#bb1340"/>
<circle cx="467.71" cy="123.00" r="1.05" fill="#eeb2c2" stroke="#cc6684" stroke-width="0.6"/>
<circle cx="466.93" cy="123.00" r="0.90" fill="#bb1340"/>
<circle cx="475.95" cy="123.00" r="0.90" fill="#bb1340"/>
<circle cx="460.84" cy="123.50" r="0.90" fill="#bb1340"/>
<circle cx="472.66" cy="123.50" r="0.90" fill="#bb1340"/>
<circle cx="474.76" cy="123.50" r="1.05" fill="#eeb2c2" stroke="#cc6684" stroke-width="0.6"/>
<circle cx="465.63" cy="124.00" r="1.05" fill="#eeb2c2" stroke="#cc6684" stroke-width="0.6"/>
<circle cx="468.68" cy="124.00" r="0.90" fill="#bb1340"/>
<circle cx="471.89" cy="124.00" r="1.05" fill="#eeb2c2" stroke="#cc6684" stroke-width="0.6"/>
<circle cx="470.76" cy="124.00" r="0.90" fill="#bb1340"/>
<circle cx="470.02" cy="124.00" r="0.90" fill="#bb1340"/>
<circle cx="464.91" cy="124.00" r="1.05" fill="#eeb2c2" stroke="#cc6684" stroke-width="0.6"/>
<circle cx="478.13" cy="124.00" r="1.05" fill="#eeb2c2" stroke="#cc6684" stroke-width="0.6"/>
<circle cx="464.17" cy="124.00" r="0.90" fill="#bb1340"/>
<circle cx="476.87" cy="124.00" r="0.90" fill="#bb1340"/>
<circle cx="463.09" cy="124.00" r="1.05" fill="#eeb2c2" stroke="#cc6684" stroke-width="0.6"/>
<circle cx="473.64" cy="124.00" r="0.90" fill="#bb1340"/>
<line x1="460.80" y1="123.50" x2="478.30" y2="123.50" stroke="#222" stroke-width="1.1"/>
<circle cx="140" cy="151.4" r="2.2" fill="#c0103a"/>
<text x="145.80" y="154.20" font-size="8.4" text-anchor="start" fill="#333" font-weight="normal" stroke="#333" stroke-width="0.06" textLength="111.2" lengthAdjust="spacingAndGlyphs">HH C28Y homozygous n = 22</text>
<circle cx="266.3" cy="151.4" r="1.9" fill="#f8d4de" stroke="#9a1a40" stroke-width="1.0"/>
<text x="271.80" y="154.20" font-size="8.4" text-anchor="start" fill="#333" font-weight="normal" stroke="#333" stroke-width="0.06" textLength="83.1" lengthAdjust="spacingAndGlyphs">HH Compound n = 11</text>
<circle cx="364.6" cy="151.4" r="2.2" fill="#173d6b"/>
<text x="370.10" y="154.20" font-size="8.4" text-anchor="start" fill="#333" font-weight="normal" stroke="#333" stroke-width="0.06" textLength="38.8" lengthAdjust="spacingAndGlyphs">HD n = 30</text>
<text x="18.50" y="242.50" font-size="8.6" text-anchor="middle" fill="#3a3a3a" font-weight="normal" stroke="#3a3a3a" stroke-width="0.06" textLength="74.3" lengthAdjust="spacingAndGlyphs" transform="rotate(-90 18.50 242.50)">Expression relative to</text>
<text x="30.70" y="243.00" font-size="8.4" text-anchor="middle" fill="#3a3a3a" font-weight="normal" stroke="#3a3a3a" stroke-width="0.06" textLength="26.5" lengthAdjust="spacingAndGlyphs" transform="rotate(-90 30.70 243.00)">GAPDH</text>
<text x="88.90" y="197.00" font-size="9.8" text-anchor="start" fill="#222" font-weight="normal" textLength="20.2" lengthAdjust="spacingAndGlyphs">ZIP8</text>
<rect x="65.90" y="275.60" width="10.80" height="7.80" fill="#d2d2d2"/>
<rect x="83.90" y="272.40" width="10.80" height="11.00" fill="#d2d2d2"/>
<rect x="101.90" y="253.80" width="10.80" height="29.60" fill="#d2d2d2"/>
<rect x="119.90" y="259.90" width="10.80" height="23.50" fill="#d2d2d2"/>
<line x1="59.60" y1="204.00" x2="59.60" y2="283.80" stroke="#231f20" stroke-width="1.4"/>
<line x1="56.60" y1="205.80" x2="59.60" y2="205.80" stroke="#231f20" stroke-width="1.1"/>
<text x="53.20" y="208.79" font-size="8.3" text-anchor="end" fill="#3a3a3a" font-weight="normal" stroke="#3a3a3a" stroke-width="0.06">0.25</text>
<line x1="56.60" y1="221.30" x2="59.60" y2="221.30" stroke="#231f20" stroke-width="1.1"/>
<text x="53.20" y="224.29" font-size="8.3" text-anchor="end" fill="#3a3a3a" font-weight="normal" stroke="#3a3a3a" stroke-width="0.06">0.20</text>
<line x1="56.60" y1="236.80" x2="59.60" y2="236.80" stroke="#231f20" stroke-width="1.1"/>
<text x="53.20" y="239.79" font-size="8.3" text-anchor="end" fill="#3a3a3a" font-weight="normal" stroke="#3a3a3a" stroke-width="0.06">0.15</text>
<line x1="56.60" y1="252.30" x2="59.60" y2="252.30" stroke="#231f20" stroke-width="1.1"/>
<text x="53.20" y="255.29" font-size="8.3" text-anchor="end" fill="#3a3a3a" font-weight="normal" stroke="#3a3a3a" stroke-width="0.06">0.10</text>
<line x1="56.60" y1="267.80" x2="59.60" y2="267.80" stroke="#231f20" stroke-width="1.1"/>
<text x="53.20" y="270.79" font-size="8.3" text-anchor="end" fill="#3a3a3a" font-weight="normal" stroke="#3a3a3a" stroke-width="0.06">0.05</text>
<line x1="56.60" y1="283.20" x2="59.60" y2="283.20" stroke="#231f20" stroke-width="1.1"/>
<text x="53.20" y="286.19" font-size="8.3" text-anchor="end" fill="#3a3a3a" font-weight="normal" stroke="#3a3a3a" stroke-width="0.06">0.00</text>
<line x1="58.80" y1="283.40" x2="137.50" y2="283.40" stroke="#231f20" stroke-width="1.4"/>
<line x1="71.30" y1="283.40" x2="71.30" y2="286.40" stroke="#231f20" stroke-width="1.1"/>
<line x1="89.30" y1="283.40" x2="89.30" y2="286.40" stroke="#231f20" stroke-width="1.1"/>
<line x1="107.30" y1="283.40" x2="107.30" y2="286.40" stroke="#231f20" stroke-width="1.1"/>
<line x1="125.30" y1="283.40" x2="125.30" y2="286.40" stroke="#231f20" stroke-width="1.1"/>
<line x1="68.00" y1="274.30" x2="75.00" y2="274.30" stroke="#222" stroke-width="0.9"/>
<circle cx="67.20" cy="275.50" r="1.50" fill="#111"/>
<circle cx="71.50" cy="273.60" r="1.50" fill="#111"/>
<circle cx="75.80" cy="273.60" r="1.50" fill="#111"/>
<line x1="89.40" y1="265.30" x2="89.40" y2="277.90" stroke="#222" stroke-width="0.9"/>
<line x1="86.40" y1="265.30" x2="92.40" y2="265.30" stroke="#222" stroke-width="1.0"/>
<line x1="86.40" y1="277.90" x2="92.40" y2="277.90" stroke="#222" stroke-width="1.0"/>
<circle cx="89.40" cy="265.30" r="1.50" fill="#111"/>
<circle cx="89.40" cy="272.10" r="1.50" fill="#111"/>
<circle cx="89.40" cy="277.60" r="1.50" fill="#111"/>
<line x1="107.30" y1="230.30" x2="107.30" y2="274.60" stroke="#222" stroke-width="0.9"/>
<line x1="104.30" y1="230.30" x2="110.30" y2="230.30" stroke="#222" stroke-width="1.0"/>
<line x1="104.30" y1="274.60" x2="110.30" y2="274.60" stroke="#222" stroke-width="1.0"/>
<polygon points="107.30,214.00 105.65,217.00 108.95,217.00" fill="#111"/>
<circle cx="107.30" cy="250.00" r="1.50" fill="#111"/>
<polygon points="102.90,262.60 101.25,265.60 104.55,265.60" fill="#111"/>
<polygon points="111.60,262.60 109.95,265.60 113.25,265.60" fill="#111"/>
<polygon points="107.30,269.70 105.65,272.70 108.95,272.70" fill="#111"/>
<line x1="125.30" y1="240.40" x2="125.30" y2="277.10" stroke="#222" stroke-width="0.9"/>
<line x1="122.30" y1="240.40" x2="128.30" y2="240.40" stroke="#222" stroke-width="1.0"/>
<line x1="122.30" y1="277.10" x2="128.30" y2="277.10" stroke="#222" stroke-width="1.0"/>
<polygon points="125.30,227.80 123.65,224.80 126.95,224.80" fill="#111"/>
<polygon points="120.80,271.30 119.15,268.30 122.45,268.30" fill="#111"/>
<circle cx="125.30" cy="267.00" r="1.50" fill="#111"/>
<polygon points="129.90,270.30 128.25,267.30 131.55,267.30" fill="#111"/>
<circle cx="125.30" cy="260.00" r="1.50" fill="#111"/>
<text x="73.90" y="292.80" font-size="9.0" text-anchor="end" fill="#3a3a3a" font-weight="normal" stroke="#3a3a3a" stroke-width="0.06" transform="rotate(-45 73.90 292.80)">Vδ1<tspan font-size="5" dy="-3.2">+</tspan></text>
<text x="91.90" y="292.80" font-size="9.0" text-anchor="end" fill="#3a3a3a" font-weight="normal" stroke="#3a3a3a" stroke-width="0.06" transform="rotate(-45 91.90 292.80)">Vδ2<tspan font-size="5" dy="-3.2">+</tspan></text>
<text x="109.90" y="292.80" font-size="9.0" text-anchor="end" fill="#3a3a3a" font-weight="normal" stroke="#3a3a3a" stroke-width="0.06" transform="rotate(-45 109.90 292.80)">CD4<tspan font-size="5" dy="-3.2">+</tspan></text>
<text x="127.90" y="292.80" font-size="9.0" text-anchor="end" fill="#3a3a3a" font-weight="normal" stroke="#3a3a3a" stroke-width="0.06" transform="rotate(-45 127.90 292.80)">CD8<tspan font-size="5" dy="-3.2">+</tspan></text>
<text x="211.90" y="197.00" font-size="9.8" text-anchor="start" fill="#222" font-weight="normal" textLength="25.2" lengthAdjust="spacingAndGlyphs">ZIP14</text>
<rect x="192.10" y="248.50" width="10.80" height="34.90" fill="#d2d2d2"/>
<rect x="209.90" y="254.40" width="10.80" height="29.00" fill="#d2d2d2"/>
<rect x="227.60" y="243.00" width="10.80" height="40.40" fill="#d2d2d2"/>
<rect x="245.60" y="233.75" width="10.80" height="49.65" fill="#d2d2d2"/>
<line x1="185.70" y1="203.20" x2="185.70" y2="284.00" stroke="#231f20" stroke-width="1.4"/>
<line x1="182.70" y1="206.10" x2="185.70" y2="206.10" stroke="#231f20" stroke-width="1.1"/>
<text x="180.00" y="209.09" font-size="8.3" text-anchor="end" fill="#3a3a3a" font-weight="normal" stroke="#3a3a3a" stroke-width="0.06">2×10<tspan font-size="4.6" dy="-3.0">−2</tspan></text>
<line x1="182.70" y1="225.40" x2="185.70" y2="225.40" stroke="#231f20" stroke-width="1.1"/>
<text x="180.00" y="228.39" font-size="8.3" text-anchor="end" fill="#3a3a3a" font-weight="normal" stroke="#3a3a3a" stroke-width="0.06">1.5×10<tspan font-size="4.6" dy="-3.0">−2</tspan></text>
<line x1="182.70" y1="244.80" x2="185.70" y2="244.80" stroke="#231f20" stroke-width="1.1"/>
<text x="180.00" y="247.79" font-size="8.3" text-anchor="end" fill="#3a3a3a" font-weight="normal" stroke="#3a3a3a" stroke-width="0.06">1×10<tspan font-size="4.6" dy="-3.0">−2</tspan></text>
<line x1="182.70" y1="264.10" x2="185.70" y2="264.10" stroke="#231f20" stroke-width="1.1"/>
<text x="180.00" y="267.09" font-size="8.3" text-anchor="end" fill="#3a3a3a" font-weight="normal" stroke="#3a3a3a" stroke-width="0.06">5×10<tspan font-size="4.6" dy="-3.0">−3</tspan></text>
<line x1="182.70" y1="283.40" x2="185.70" y2="283.40" stroke="#231f20" stroke-width="1.1"/>
<text x="180.00" y="286.39" font-size="8.3" text-anchor="end" fill="#3a3a3a" font-weight="normal" stroke="#3a3a3a" stroke-width="0.06">0</text>
<line x1="184.90" y1="283.40" x2="263.10" y2="283.40" stroke="#231f20" stroke-width="1.4"/>
<line x1="197.50" y1="283.40" x2="197.50" y2="286.40" stroke="#231f20" stroke-width="1.1"/>
<line x1="215.30" y1="283.40" x2="215.30" y2="286.40" stroke="#231f20" stroke-width="1.1"/>
<line x1="233.00" y1="283.40" x2="233.00" y2="286.40" stroke="#231f20" stroke-width="1.1"/>
<line x1="251.00" y1="283.40" x2="251.00" y2="286.40" stroke="#231f20" stroke-width="1.1"/>
<line x1="197.50" y1="233.75" x2="197.50" y2="261.00" stroke="#222" stroke-width="0.9"/>
<line x1="194.50" y1="233.75" x2="200.50" y2="233.75" stroke="#222" stroke-width="1.0"/>
<line x1="194.50" y1="261.00" x2="200.50" y2="261.00" stroke="#222" stroke-width="1.0"/>
<circle cx="193.20" cy="239.20" r="1.50" fill="#111"/>
<circle cx="202.30" cy="240.40" r="1.50" fill="#111"/>
<circle cx="197.50" cy="264.20" r="1.50" fill="#111"/>
<line x1="215.30" y1="233.75" x2="215.30" y2="273.70" stroke="#222" stroke-width="0.9"/>
<line x1="212.30" y1="233.75" x2="218.30" y2="233.75" stroke="#222" stroke-width="1.0"/>
<line x1="212.30" y1="273.70" x2="218.30" y2="273.70" stroke="#222" stroke-width="1.0"/>
<rect x="213.80" y="229.40" width="3.00" height="3.00" fill="#111"/>
<rect x="213.80" y="261.20" width="3.00" height="3.00" fill="#111"/>
<rect x="213.80" y="266.00" width="3.00" height="3.00" fill="#111"/>
<line x1="233.00" y1="227.30" x2="233.00" y2="254.70" stroke="#222" stroke-width="0.9"/>
<line x1="230.00" y1="227.30" x2="236.00" y2="227.30" stroke="#222" stroke-width="1.0"/>
<line x1="230.00" y1="254.70" x2="236.00" y2="254.70" stroke="#222" stroke-width="1.0"/>
<polygon points="228.90,225.50 227.25,228.50 230.55,228.50" fill="#111"/>
<polygon points="237.40,229.10 235.75,232.10 239.05,232.10" fill="#111"/>
<polygon points="228.90,239.60 227.25,242.60 230.55,242.60" fill="#111"/>
<polygon points="237.40,243.40 235.75,246.40 239.05,246.40" fill="#111"/>
<polygon points="233.00,260.00 231.35,263.00 234.65,263.00" fill="#111"/>
<line x1="251.00" y1="214.30" x2="251.00" y2="250.90" stroke="#222" stroke-width="0.9"/>
<line x1="248.00" y1="214.30" x2="254.00" y2="214.30" stroke="#222" stroke-width="1.0"/>
<line x1="248.00" y1="250.90" x2="254.00" y2="250.90" stroke="#222" stroke-width="1.0"/>
<polygon points="246.20,218.90 244.55,215.90 247.85,215.90" fill="#111"/>
<polygon points="255.70,218.90 254.05,215.90 257.35,215.90" fill="#111"/>
<circle cx="251.00" cy="227.10" r="1.50" fill="#111"/>
<circle cx="251.00" cy="238.50" r="1.50" fill="#111"/>
<polygon points="251.00,262.40 249.35,259.40 252.65,259.40" fill="#111"/>
<text x="200.10" y="292.80" font-size="9.0" text-anchor="end" fill="#3a3a3a" font-weight="normal" stroke="#3a3a3a" stroke-width="0.06" transform="rotate(-45 200.10 292.80)">Vδ1<tspan font-size="5" dy="-3.2">+</tspan></text>
<text x="217.90" y="292.80" font-size="9.0" text-anchor="end" fill="#3a3a3a" font-weight="normal" stroke="#3a3a3a" stroke-width="0.06" transform="rotate(-45 217.90 292.80)">Vδ2<tspan font-size="5" dy="-3.2">+</tspan></text>
<text x="235.60" y="292.80" font-size="9.0" text-anchor="end" fill="#3a3a3a" font-weight="normal" stroke="#3a3a3a" stroke-width="0.06" transform="rotate(-45 235.60 292.80)">CD4<tspan font-size="5" dy="-3.2">+</tspan></text>
<text x="253.60" y="292.80" font-size="9.0" text-anchor="end" fill="#3a3a3a" font-weight="normal" stroke="#3a3a3a" stroke-width="0.06" transform="rotate(-45 253.60 292.80)">CD8<tspan font-size="5" dy="-3.2">+</tspan></text>
<text x="335.60" y="197.00" font-size="9.8" text-anchor="start" fill="#222" font-weight="normal" textLength="26.8" lengthAdjust="spacingAndGlyphs">DMT1</text>
<rect x="317.30" y="276.00" width="10.80" height="7.40" fill="#d2d2d2"/>
<rect x="335.30" y="272.20" width="10.80" height="11.20" fill="#d2d2d2"/>
<rect x="353.00" y="244.00" width="10.80" height="39.40" fill="#d2d2d2"/>
<rect x="370.90" y="250.90" width="10.80" height="32.50" fill="#d2d2d2"/>
<line x1="311.40" y1="203.20" x2="311.40" y2="284.00" stroke="#231f20" stroke-width="1.4"/>
<line x1="308.40" y1="206.10" x2="311.40" y2="206.10" stroke="#231f20" stroke-width="1.1"/>
<text x="305.50" y="209.09" font-size="8.3" text-anchor="end" fill="#3a3a3a" font-weight="normal" stroke="#3a3a3a" stroke-width="0.06">2×10<tspan font-size="4.6" dy="-3.0">−2</tspan></text>
<line x1="308.40" y1="225.40" x2="311.40" y2="225.40" stroke="#231f20" stroke-width="1.1"/>
<text x="305.50" y="228.39" font-size="8.3" text-anchor="end" fill="#3a3a3a" font-weight="normal" stroke="#3a3a3a" stroke-width="0.06">1.5×10<tspan font-size="4.6" dy="-3.0">−2</tspan></text>
<line x1="308.40" y1="244.80" x2="311.40" y2="244.80" stroke="#231f20" stroke-width="1.1"/>
<text x="305.50" y="247.79" font-size="8.3" text-anchor="end" fill="#3a3a3a" font-weight="normal" stroke="#3a3a3a" stroke-width="0.06">1×10<tspan font-size="4.6" dy="-3.0">−2</tspan></text>
<line x1="308.40" y1="264.10" x2="311.40" y2="264.10" stroke="#231f20" stroke-width="1.1"/>
<text x="305.50" y="267.09" font-size="8.3" text-anchor="end" fill="#3a3a3a" font-weight="normal" stroke="#3a3a3a" stroke-width="0.06">5×10<tspan font-size="4.6" dy="-3.0">−3</tspan></text>
<line x1="308.40" y1="283.40" x2="311.40" y2="283.40" stroke="#231f20" stroke-width="1.1"/>
<text x="305.50" y="286.39" font-size="8.3" text-anchor="end" fill="#3a3a3a" font-weight="normal" stroke="#3a3a3a" stroke-width="0.06">0</text>
<line x1="310.60" y1="283.40" x2="388.50" y2="283.40" stroke="#231f20" stroke-width="1.4"/>
<line x1="322.70" y1="283.40" x2="322.70" y2="286.40" stroke="#231f20" stroke-width="1.1"/>
<line x1="340.70" y1="283.40" x2="340.70" y2="286.40" stroke="#231f20" stroke-width="1.1"/>
<line x1="358.40" y1="283.40" x2="358.40" y2="286.40" stroke="#231f20" stroke-width="1.1"/>
<line x1="376.30" y1="283.40" x2="376.30" y2="286.40" stroke="#231f20" stroke-width="1.1"/>
<line x1="322.70" y1="268.90" x2="322.70" y2="281.30" stroke="#222" stroke-width="0.9"/>
<line x1="319.70" y1="268.90" x2="325.70" y2="268.90" stroke="#222" stroke-width="1.0"/>
<line x1="319.70" y1="281.30" x2="325.70" y2="281.30" stroke="#222" stroke-width="1.0"/>
<polygon points="322.70,270.70 321.05,267.70 324.35,267.70" fill="#111"/>
<circle cx="322.70" cy="274.10" r="1.50" fill="#111"/>
<polygon points="322.70,282.60 321.05,279.60 324.35,279.60" fill="#111"/>
<line x1="340.70" y1="264.20" x2="340.70" y2="281.30" stroke="#222" stroke-width="0.9"/>
<line x1="337.70" y1="264.20" x2="343.70" y2="264.20" stroke="#222" stroke-width="1.0"/>
<line x1="337.70" y1="281.30" x2="343.70" y2="281.30" stroke="#222" stroke-width="1.0"/>
<rect x="334.70" y="265.50" width="3.00" height="3.00" fill="#111"/>
<rect x="343.80" y="265.50" width="3.00" height="3.00" fill="#111"/>
<polygon points="340.70,282.60 339.05,279.60 342.35,279.60" fill="#111"/>
<line x1="358.40" y1="217.10" x2="358.40" y2="268.90" stroke="#222" stroke-width="0.9"/>
<line x1="355.40" y1="217.10" x2="361.40" y2="217.10" stroke="#222" stroke-width="1.0"/>
<line x1="355.40" y1="268.90" x2="361.40" y2="268.90" stroke="#222" stroke-width="1.0"/>
<polygon points="354.30,219.60 352.65,222.60 355.95,222.60" fill="#111"/>
<polygon points="362.40,220.60 360.75,223.60 364.05,223.60" fill="#111"/>
<polygon points="358.40,229.10 356.75,232.10 360.05,232.10" fill="#111"/>
<polygon points="358.40,261.60 356.75,264.60 360.05,264.60" fill="#111"/>
<polygon points="358.40,277.10 356.75,280.10 360.05,280.10" fill="#111"/>
<line x1="376.30" y1="233.75" x2="376.30" y2="267.00" stroke="#222" stroke-width="0.9"/>
<line x1="373.30" y1="233.75" x2="379.30" y2="233.75" stroke="#222" stroke-width="1.0"/>
<line x1="373.30" y1="267.00" x2="379.30" y2="267.00" stroke="#222" stroke-width="1.0"/>
<polygon points="371.90,242.20 370.25,239.20 373.55,239.20" fill="#111"/>
<polygon points="376.30,243.20 374.65,240.20 377.95,240.20" fill="#111"/>
<polygon points="380.90,242.20 379.25,239.20 382.55,239.20" fill="#111"/>
<circle cx="376.30" cy="246.80" r="1.50" fill="#111"/>
<polygon points="376.30,280.70 374.65,277.70 377.95,277.70" fill="#111"/>
<text x="325.30" y="292.80" font-size="9.0" text-anchor="end" fill="#3a3a3a" font-weight="normal" stroke="#3a3a3a" stroke-width="0.06" transform="rotate(-45 325.30 292.80)">Vδ1<tspan font-size="5" dy="-3.2">+</tspan></text>
<text x="343.30" y="292.80" font-size="9.0" text-anchor="end" fill="#3a3a3a" font-weight="normal" stroke="#3a3a3a" stroke-width="0.06" transform="rotate(-45 343.30 292.80)">Vδ2<tspan font-size="5" dy="-3.2">+</tspan></text>
<text x="361.00" y="292.80" font-size="9.0" text-anchor="end" fill="#3a3a3a" font-weight="normal" stroke="#3a3a3a" stroke-width="0.06" transform="rotate(-45 361.00 292.80)">CD4<tspan font-size="5" dy="-3.2">+</tspan></text>
<text x="378.90" y="292.80" font-size="9.0" text-anchor="end" fill="#3a3a3a" font-weight="normal" stroke="#3a3a3a" stroke-width="0.06" transform="rotate(-45 378.90 292.80)">CD8<tspan font-size="5" dy="-3.2">+</tspan></text>
<text x="449.00" y="197.00" font-size="9.8" text-anchor="start" fill="#222" font-weight="normal" textLength="51.8" lengthAdjust="spacingAndGlyphs">Ferroportin</text>
<rect x="477.55" y="256.80" width="10.50" height="14.00" fill="#d2d2d2"/>
<line x1="436.30" y1="203.20" x2="436.30" y2="283.50" stroke="#231f20" stroke-width="1.4"/>
<line x1="433.30" y1="207.50" x2="436.30" y2="207.50" stroke="#231f20" stroke-width="1.1"/>
<text x="430.60" y="210.49" font-size="8.3" text-anchor="end" fill="#3a3a3a" font-weight="normal" stroke="#3a3a3a" stroke-width="0.06">2.5×10<tspan font-size="4.6" dy="-3.0">−3</tspan></text>
<line x1="433.30" y1="220.00" x2="436.30" y2="220.00" stroke="#231f20" stroke-width="1.1"/>
<text x="430.60" y="222.99" font-size="8.3" text-anchor="end" fill="#3a3a3a" font-weight="normal" stroke="#3a3a3a" stroke-width="0.06">2×10<tspan font-size="4.6" dy="-3.0">−3</tspan></text>
<line x1="433.30" y1="232.60" x2="436.30" y2="232.60" stroke="#231f20" stroke-width="1.1"/>
<text x="430.60" y="235.59" font-size="8.3" text-anchor="end" fill="#3a3a3a" font-weight="normal" stroke="#3a3a3a" stroke-width="0.06">1.5×10<tspan font-size="4.6" dy="-3.0">−3</tspan></text>
<line x1="433.30" y1="245.10" x2="436.30" y2="245.10" stroke="#231f20" stroke-width="1.1"/>
<text x="430.60" y="248.09" font-size="8.3" text-anchor="end" fill="#3a3a3a" font-weight="normal" stroke="#3a3a3a" stroke-width="0.06">1×10<tspan font-size="4.6" dy="-3.0">−3</tspan></text>
<line x1="433.30" y1="257.60" x2="436.30" y2="257.60" stroke="#231f20" stroke-width="1.1"/>
<text x="430.60" y="260.59" font-size="8.3" text-anchor="end" fill="#3a3a3a" font-weight="normal" stroke="#3a3a3a" stroke-width="0.06">5×10<tspan font-size="4.6" dy="-3.0">−4</tspan></text>
<line x1="433.30" y1="270.80" x2="436.30" y2="270.80" stroke="#231f20" stroke-width="1.1"/>
<text x="430.60" y="273.79" font-size="8.3" text-anchor="end" fill="#3a3a3a" font-weight="normal" stroke="#3a3a3a" stroke-width="0.06">0</text>
<line x1="433.30" y1="282.90" x2="436.30" y2="282.90" stroke="#231f20" stroke-width="1.1"/>
<text x="430.60" y="285.89" font-size="8.3" text-anchor="end" fill="#3a3a3a" font-weight="normal" stroke="#3a3a3a" stroke-width="0.06">−5×10<tspan font-size="4.6" dy="-3.0">−4</tspan></text>
<line x1="435.80" y1="270.80" x2="511.30" y2="270.80" stroke="#231f20" stroke-width="1.1"/>
<line x1="435.70" y1="282.90" x2="511.30" y2="282.90" stroke="#231f20" stroke-width="1.4"/>
<line x1="448.20" y1="282.90" x2="448.20" y2="285.90" stroke="#231f20" stroke-width="1.1"/>
<line x1="465.50" y1="282.90" x2="465.50" y2="285.90" stroke="#231f20" stroke-width="1.1"/>
<line x1="482.80" y1="282.90" x2="482.80" y2="285.90" stroke="#231f20" stroke-width="1.1"/>
<line x1="500.00" y1="282.90" x2="500.00" y2="285.90" stroke="#231f20" stroke-width="1.1"/>
<circle cx="444.30" cy="270.60" r="1.50" fill="#111"/>
<circle cx="448.30" cy="270.60" r="1.50" fill="#111"/>
<circle cx="452.30" cy="270.60" r="1.50" fill="#111"/>
<circle cx="461.40" cy="270.90" r="1.50" fill="#111"/>
<rect x="464.00" y="268.10" width="3.00" height="3.00" fill="#111"/>
<rect x="468.00" y="268.10" width="3.00" height="3.00" fill="#111"/>
<line x1="483.20" y1="234.20" x2="483.20" y2="277.00" stroke="#222" stroke-width="0.9"/>
<line x1="480.20" y1="234.20" x2="486.20" y2="234.20" stroke="#222" stroke-width="1.0"/>
<line x1="480.20" y1="277.00" x2="486.20" y2="277.00" stroke="#222" stroke-width="1.0"/>
<polygon points="483.20,216.50 481.55,219.50 484.85,219.50" fill="#111"/>
<polygon points="479.20,262.80 477.55,265.80 480.85,265.80" fill="#111"/>
<polygon points="483.20,263.70 481.55,266.70 484.85,266.70" fill="#111"/>
<polygon points="487.50,262.80 485.85,265.80 489.15,265.80" fill="#111"/>
<circle cx="483.20" cy="270.00" r="1.50" fill="#111"/>
<polygon points="496.00,270.82 494.79,268.62 497.21,268.62" fill="#111"/>
<polygon points="498.50,270.82 497.29,268.62 499.71,268.62" fill="#111"/>
<polygon points="501.00,270.82 499.79,268.62 502.21,268.62" fill="#111"/>
<polygon points="503.50,271.12 502.29,268.92 504.71,268.92" fill="#111"/>
<text x="450.80" y="292.80" font-size="9.0" text-anchor="end" fill="#3a3a3a" font-weight="normal" stroke="#3a3a3a" stroke-width="0.06" transform="rotate(-45 450.80 292.80)">Vδ1<tspan font-size="5" dy="-3.2">+</tspan></text>
<text x="468.10" y="292.80" font-size="9.0" text-anchor="end" fill="#3a3a3a" font-weight="normal" stroke="#3a3a3a" stroke-width="0.06" transform="rotate(-45 468.10 292.80)">Vδ2<tspan font-size="5" dy="-3.2">+</tspan></text>
<text x="485.40" y="292.80" font-size="9.0" text-anchor="end" fill="#3a3a3a" font-weight="normal" stroke="#3a3a3a" stroke-width="0.06" transform="rotate(-45 485.40 292.80)">CD4<tspan font-size="5" dy="-3.2">+</tspan></text>
<text x="502.60" y="292.80" font-size="9.0" text-anchor="end" fill="#3a3a3a" font-weight="normal" stroke="#3a3a3a" stroke-width="0.06" transform="rotate(-45 502.60 292.80)">CD8<tspan font-size="5" dy="-3.2">+</tspan></text>
</g>
<rect x="0" y="0" width="1" height="316" fill="#3c3c3c"/><rect x="519" y="0" width="1" height="316" fill="#3c3c3c"/><rect x="0" y="315" width="520" height="1" fill="#3a3a3a"/><rect x="0" y="0" width="520" height="1" fill="#505050"/>
</svg>
</body></html>
